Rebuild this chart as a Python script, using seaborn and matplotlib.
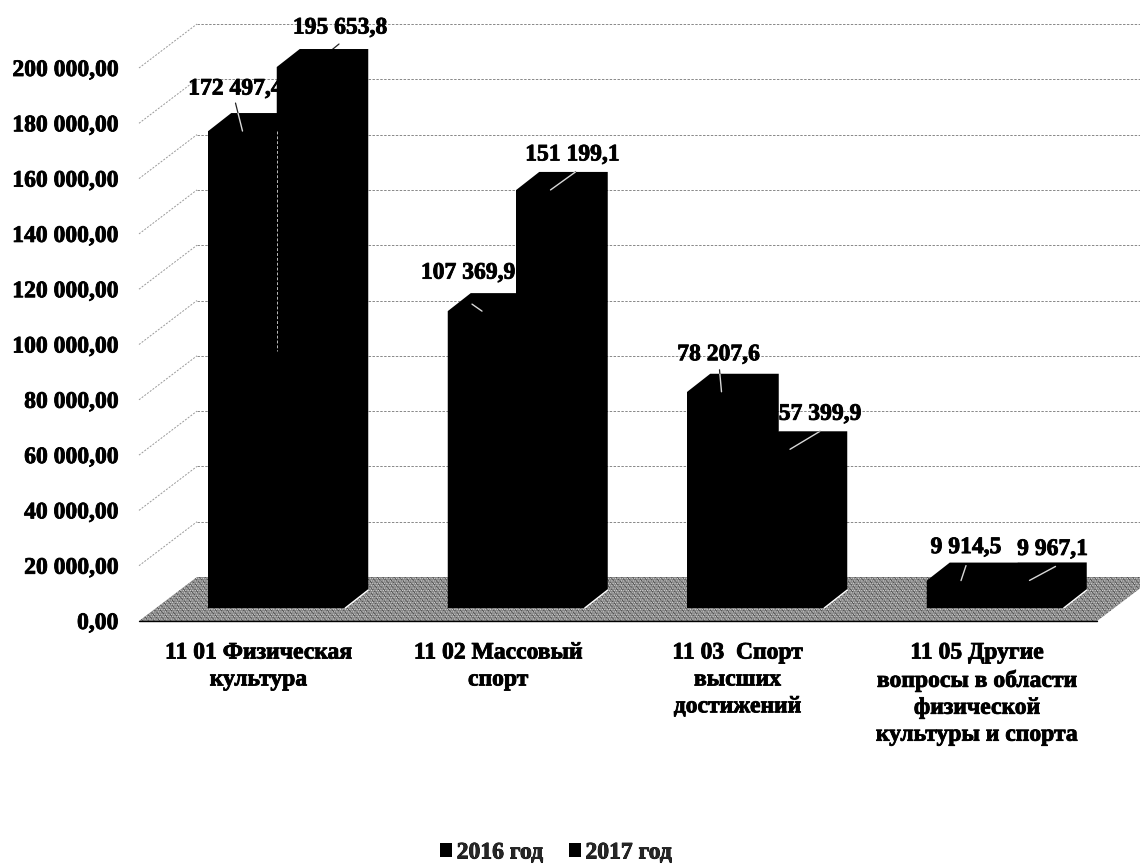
import matplotlib
matplotlib.use('Agg')
import matplotlib.pyplot as plt
import matplotlib.patheffects as pe
import seaborn as sns
import pandas as pd
from matplotlib.patches import Polygon
from matplotlib.transforms import Affine2D, IdentityTransform

categories = ['11 01 Физическая\nкультура', '11 02 Массовый\nспорт',
              '11 03  Спорт\nвысших\nдостижений',
              '11 05 Другие\nвопросы в области\nфизической\nкультуры и спорта']
years = ['2016 год', '2017 год']
values_2016 = [172497.4, 107369.9, 78207.6, 9914.5]
values_2017 = [195653.8, 151199.1, 57399.9, 9967.1]
labels_2016 = ['172 497,4', '107 369,9', '78 207,6', '9 914,5']
labels_2017 = ['195 653,8', '151 199,1', '57 399,9', '9 967,1']
y_ticks = [0, 20000, 40000, 60000, 80000, 100000, 120000, 140000, 160000, 180000, 200000]
y_labels = ['0,00', '20 000,00', '40 000,00', '60 000,00', '80 000,00', '100 000,00',
            '120 000,00', '140 000,00', '160 000,00', '180 000,00', '200 000,00']

df = pd.DataFrame({
    'cat': categories * 2,
    'year': [years[0]] * 4 + [years[1]] * 4,
    'value': values_2016 + values_2017,
})

sns.set_theme(style='white')
plt.rcParams['font.family'] = ['Liberation Serif', 'DejaVu Serif']
plt.rcParams['font.weight'] = 'bold'
plt.rcParams['hatch.linewidth'] = 0.4

# scanned look: text is a bit fatter than the plain bold face
heavy = [pe.withStroke(linewidth=0.6, foreground='black')]

fig = plt.figure(figsize=(11.4, 8.65), dpi=100)
ax = fig.add_axes([139 / 1140, (865 - 621) / 865, 958 / 1140, 553 / 865])
sns.barplot(data=df, x='cat', y='value', hue='year', palette=['black', 'black'],
            width=0.572, gap=0, saturation=1, linewidth=0, ax=ax, zorder=4)
ax.set_xlim(-0.5, 3.5)
ax.set_ylim(0, 200000)
ax.set_xlabel('')
ax.set_ylabel('')
ax.set_yticks(y_ticks)
ax.set_yticklabels(y_labels)
ax.tick_params(axis='both', length=0, labelsize=17, colors='black')
ax.tick_params(axis='x', pad=15.5)
ax.tick_params(axis='y', pad=15)
for t in ax.get_xticklabels():
    t.set_linespacing(1.37)
    t.set_path_effects(heavy)
for t in ax.get_yticklabels():
    t.set_path_effects(heavy)
sns.despine(ax=ax, left=True, bottom=True)

# fake 3d: everything offset in pixels from the front plane
fig.canvas.draw()
def shifted(dx, dy):
    return ax.transData + Affine2D().translate(dx, dy)
def to_px(x, y, dx=0, dy=0):
    px, py = ax.transData.transform((x, y))
    return px + dx, py + dy

wall_dx, wall_dy = 58, 44
bar_dx, bar_dy = 18, 13
side_dx, side_dy = 23, 18

# floor
floor_pts = [to_px(-0.5, 0), to_px(3.5, 0), to_px(3.5, 0, wall_dx, wall_dy), to_px(-0.5, 0, wall_dx, wall_dy)]
ax.add_patch(Polygon(floor_pts, closed=True, transform=IdentityTransform(), clip_on=False,
                     facecolor='#8a8a8a', edgecolor='none', zorder=1))
ax.add_patch(Polygon(floor_pts, closed=True, transform=IdentityTransform(), clip_on=False,
                     facecolor='none', edgecolor='#333333', hatch='\\\\\\\\\\\\', linewidth=0, zorder=1.1))
ax.add_patch(Polygon(floor_pts, closed=True, transform=IdentityTransform(), clip_on=False,
                     facecolor='none', edgecolor='#dddddd', hatch='.......', linewidth=0, zorder=1.2))
ax.plot([-0.5, 3.5], [0, 0], color='black', lw=1.0, clip_on=False, zorder=1.3)

# walls
for v in y_ticks[1:]:
    ax.plot([to_px(-0.5, v)[0], to_px(-0.5, v, wall_dx, wall_dy)[0]],
            [to_px(-0.5, v)[1], to_px(-0.5, v, wall_dx, wall_dy)[1]],
            transform=IdentityTransform(), color='#999999', lw=0.7, ls=(0, (2, 1.5)), clip_on=False, zorder=1)
    ax.plot([-0.5, 3.6], [v, v], transform=shifted(wall_dx, wall_dy), color='#888888', lw=0.7,
            ls=(0, (2.5, 1.5)), clip_on=False, zorder=1)

# bars + leader lines + value labels
leader_start = [[(-7, 28), (28, 23)], [(-10, 7), (25, 18)], [(-2, 22), (30, 18)], [(5, 15), (26, 14)]]
label_pos = [[(-7, 42), (29, 39)], [(-14, 38), (22, 35)], [(-3, 37), (30, 35)], [(5, 33), (23, 31)]]
value_labels = [labels_2016, labels_2017]

for h, container in enumerate(ax.containers):
    for i, bar in enumerate(container.patches):
        bar.set_transform(shifted(bar_dx, bar_dy))
        bar.set_clip_on(False)
        x0, x1, top = bar.get_x(), bar.get_x() + bar.get_width(), bar.get_height()
        p_bl = to_px(x0, 0, bar_dx, bar_dy)
        p_br = to_px(x1, 0, bar_dx, bar_dy)
        p_tl = to_px(x0, top, bar_dx, bar_dy)
        p_tr = to_px(x1, top, bar_dx, bar_dy)
        hull = [p_bl, p_br, (p_br[0] + side_dx, p_br[1] + side_dy),
                (p_tr[0] + side_dx, p_tr[1] + side_dy), (p_tl[0] + side_dx, p_tl[1] + side_dy), p_tl]
        solid = Polygon(hull, closed=True, transform=IdentityTransform(), clip_on=False,
                        facecolor='black', edgecolor='none', zorder=4)
        ax.add_patch(solid)

        cx, cy = (p_tl[0] + p_tr[0]) / 2, p_tl[1]
        sx, sy = leader_start[i][h]
        ax.plot([cx + sx, cx], [cy + sy, cy], transform=IdentityTransform(), color='#222222',
                lw=0.9, clip_on=False, zorder=2)
        white = ax.plot([cx + sx, cx], [cy + sy, cy], transform=IdentityTransform(), color='#d8d8d8',
                        lw=1.0, zorder=5)[0]
        white.set_clip_path(solid)
        lx, ly = label_pos[i][h]
        ax.text(cx + lx, cy + ly, value_labels[h][i], transform=IdentityTransform(), fontsize=17,
                ha='center', va='center', color='black', zorder=3, clip_on=False, path_effects=heavy)

        if h == 1:
            ax.plot([p_br[0], p_br[0] + side_dx], [p_br[1], p_br[1] + side_dy],
                    transform=IdentityTransform(), color='white', lw=1.0, clip_on=False, zorder=5)

# thin seam between the first pair of bars
seam = ax.containers[0].patches[0]
ax.plot([seam.get_x() + seam.get_width()] * 2, [seam.get_height(), 93000], transform=shifted(bar_dx, bar_dy),
        color='#bbbbbb', lw=0.7, ls=(0, (3, 2)), zorder=6)

handles, labels = ax.get_legend_handles_labels()
leg = ax.legend(handles, labels, loc='center', bbox_to_anchor=(556 / 1140, 1 - 853 / 865),
                bbox_transform=fig.transFigure, ncol=2, frameon=False, fontsize=17, handlelength=0.5,
                handleheight=0.5, handletextpad=0.2, columnspacing=1.1)
for t in leg.get_texts():
    t.set_path_effects(heavy)

fig.savefig('out.png', dpi=100)
